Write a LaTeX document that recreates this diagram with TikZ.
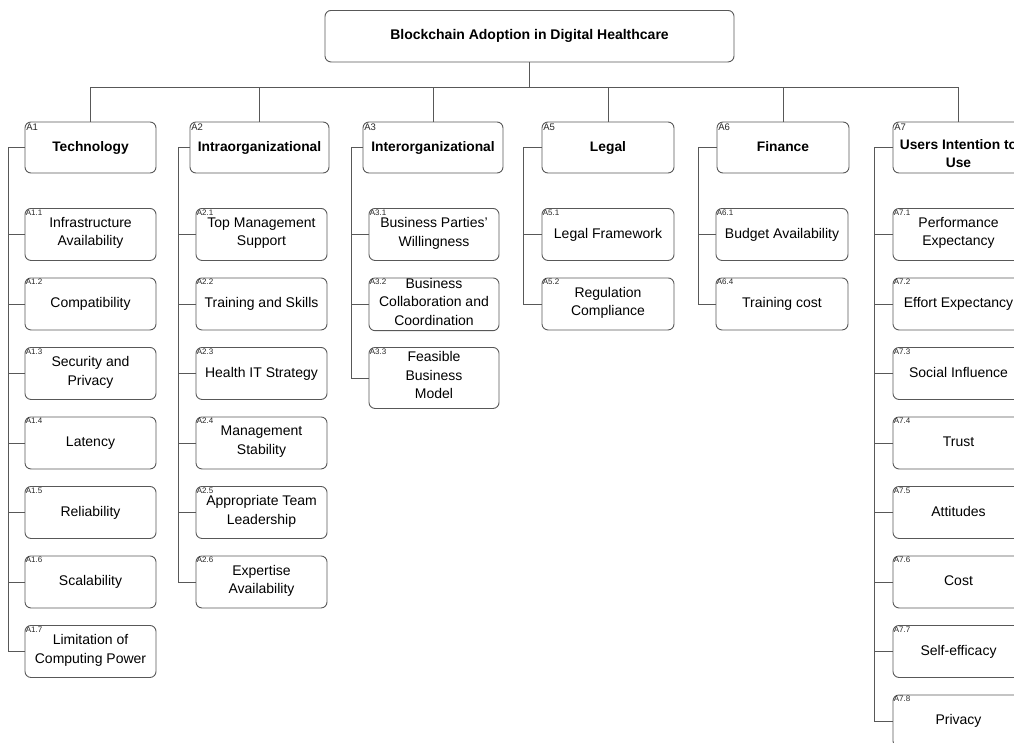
\documentclass[tikz,border=0pt]{standalone}
\usepackage{fontspec}
\setmainfont{Liberation Sans}
\usepackage{tikz}
\usetikzlibrary{positioning}

\definecolor{edge}{HTML}{585858}
\tikzset{
  box/.style={draw=edge, line width=0.9pt, rounded corners=6pt, align=center, inner sep=2pt,
    execute at begin node=\strut, execute at end node=\strut},
  head/.style={box, minimum height=51pt, font=\bfseries\fontsize{13.8}{18}\selectfont},
  leaf/.style={box, anchor=north, minimum height=52pt, font=\fontsize{14}{18.5}\selectfont},
  tag/.style={anchor=north west, inner sep=0pt, text=black!85, font=\fontsize{8}{8}\selectfont},
  headtag/.style={tag, font=\fontsize{9.5}{9.5}\selectfont},
  link/.style={draw=edge, line width=0.9pt},
}

\begin{document}
\begin{tikzpicture}[x=1pt,y=-1pt]
  \useasboundingbox (0,0) rectangle (1014,742);
  \clip (0,0) rectangle (1014,742);

  \node[box, minimum width=409pt, minimum height=51.5pt, font=\bfseries\fontsize{14}{16}\selectfont] (root) at (529.5,36.2) {Blockchain Adoption in Digital Healthcare};
  \coordinate (bus) at (0,87.5);

  % dimensions of the factor groups
  \foreach \n/\x/\w/\txt in {1/90.5/131/Technology, 2/259.5/139/Intraorganizational,
      3/433/140/Interorganizational, 5/608/132/Legal, 6/783/132/Finance} {
    \node[head, minimum width=\w pt] (h\n) at (\x,147.5) {\txt};
  }
  \node[head, minimum width=131pt, inner ysep=0pt] (h7) at (958.5,147.5) {\rule{0pt}{27pt}Users Intention to\\Use};
  \foreach \n in {1,2,3,5,6,7} {
    \node[headtag] (th\n) at ([xshift=1.5pt,yshift=-2pt]h\n.north west) {A\n};
    \draw[link] (root.south) -- (root.south |- bus) -| (h\n.north);
  }

  \def\row#1{{208+69.5*(#1-1)}}

  \foreach \k/\txt in {1/{Infrastructure\\Availability}, 2/Compatibility, 3/{Security and\\Privacy},
      4/Latency, 5/Reliability, 6/Scalability, 7/{Limitation of\\Computing Power}} {
    \node[leaf, minimum width=131pt] (c1-\k) at (90.5,\row{\k}) {\txt};
    \node[tag] (t1-\k) at ([xshift=1pt,yshift=-1.5pt]c1-\k.north west) {A1.\k};
    \draw[link] (h1.west) -- ++(-16,0) |- (c1-\k.west);
  }

  \foreach \k/\txt in {1/{Top Management\\Support}, 2/Training and Skills, 3/Health IT Strategy,
      4/{Management\\Stability}, 5/{Appropriate Team\\Leadership}, 6/{Expertise\\Availability}} {
    \node[leaf, minimum width=131pt] (c2-\k) at (261.5,\row{\k}) {\txt};
    \node[tag] (t2-\k) at ([xshift=1pt,yshift=-1.5pt]c2-\k.north west) {A2.\k};
    \draw[link] (h2.west) -- ++(-11,0) |- (c2-\k.west);
  }

  \foreach \k/\h/\txt in {1/52/{Business Parties'\\Willingness}, 2/52/{Business\\Collaboration and\\Coordination},
      3/61/{Feasible\\Business\\Model}} {
    \node[leaf, minimum width=130pt, minimum height=\h pt, inner ysep=0pt] (c3-\k) at (434,\row{\k}) {\txt};
    \node[tag] (t3-\k) at ([xshift=1pt,yshift=-1.5pt]c3-\k.north west) {A3.\k};
    \draw[link] (h3.west) -- ++(-11,0) |- (c3-\k.west);
  }

  \foreach \k/\txt in {1/Legal Framework, 2/{Regulation\\Compliance}} {
    \node[leaf, minimum width=132pt] (c5-\k) at (608,\row{\k}) {\txt};
    \node[tag] (t5-\k) at ([xshift=1pt,yshift=-1.5pt]c5-\k.north west) {A5.\k};
    \draw[link] (h5.west) -- ++(-18,0) |- (c5-\k.west);
  }

  \foreach \k/\id/\txt in {1/1/Budget Availability, 2/4/Training cost} {
    \node[leaf, minimum width=132pt] (c6-\k) at (782,\row{\k}) {\txt};
    \node[tag] (t6-\k) at ([xshift=1pt,yshift=-1.5pt]c6-\k.north west) {A6.\id};
    \draw[link] (h6.west) -- ++(-18,0) |- (c6-\k.west);
  }

  \foreach \k/\txt in {1/{Performance\\Expectancy}, 2/Effort Expectancy, 3/Social Influence, 4/Trust,
      5/Attitudes, 6/Cost, 7/Self-efficacy, 8/Privacy} {
    \node[leaf, minimum width=131pt] (c7-\k) at (958.5,\row{\k}) {\txt};
    \node[tag] (t7-\k) at ([xshift=1pt,yshift=-1.5pt]c7-\k.north west) {A7.\k};
    \draw[link] (h7.west) -- ++(-18,0) |- (c7-\k.west);
  }
\end{tikzpicture}
\end{document}
